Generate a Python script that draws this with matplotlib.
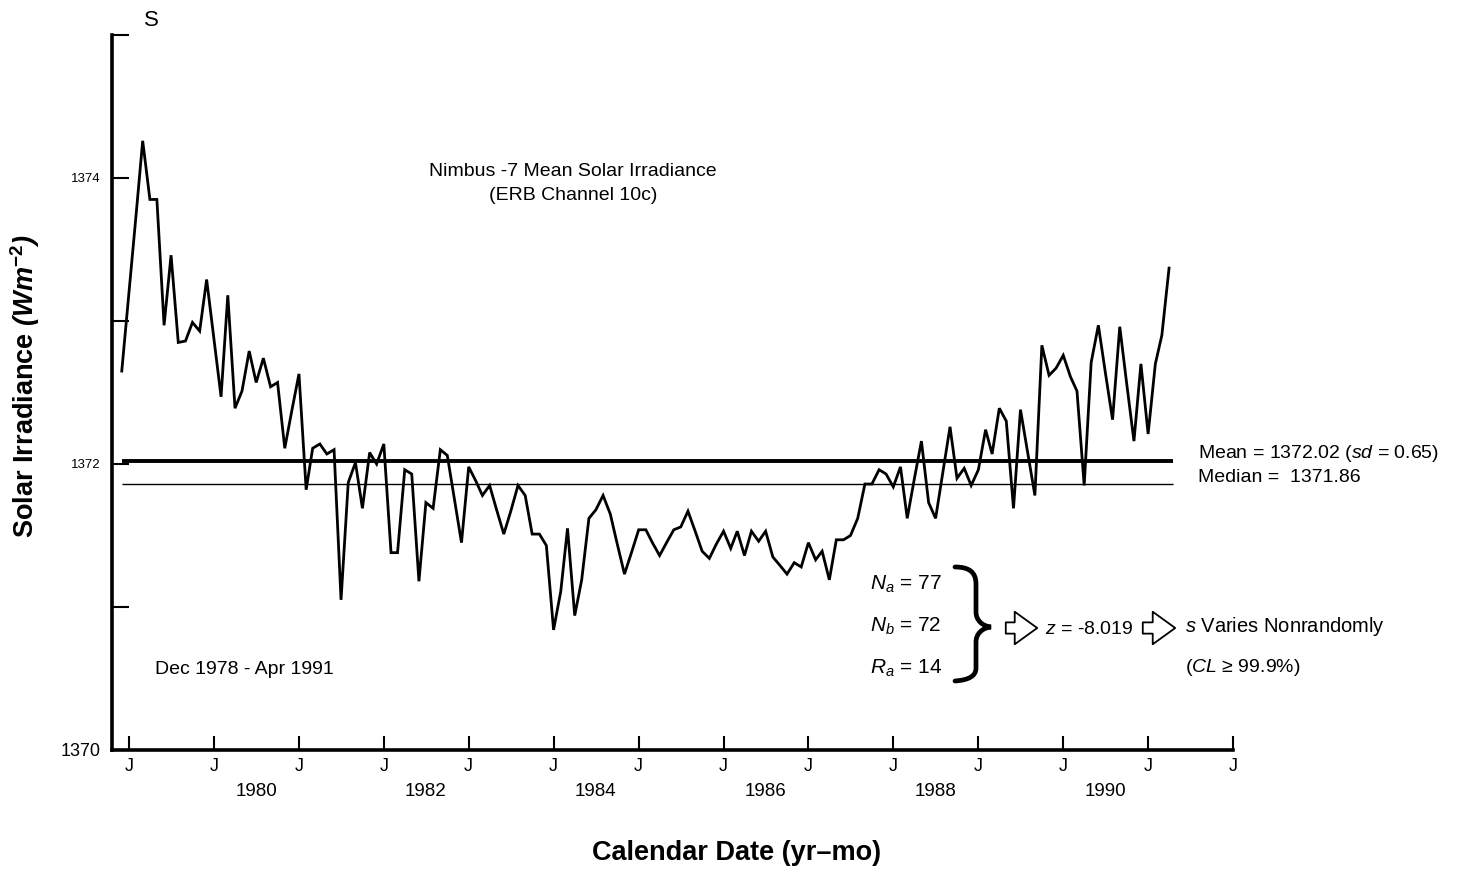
import numpy as np
import pandas as pd
import matplotlib
matplotlib.use("Agg")
import matplotlib.pyplot as plt
from matplotlib.path import Path
from matplotlib.patches import PathPatch, FancyArrowPatch

plt.rcParams["font.family"] = ["Liberation Sans", "DejaVu Sans"]
plt.rcParams["mathtext.fontset"] = "custom"
plt.rcParams["mathtext.rm"] = "Liberation Sans"
plt.rcParams["mathtext.it"] = "Liberation Sans:italic"
plt.rcParams["mathtext.bf"] = "Liberation Sans:bold"
plt.rcParams["mathtext.bfit"] = "Liberation Sans:bold:italic"

# monthly Nimbus-7 ERB channel 10c means, Dec 1978 - Apr 1991
start_month = "1978-12-01"
irradiance = [
    1372.65, 1373.20, 1373.75, 1374.26, 1373.85, 1373.85, 1372.97, 1373.46, 1372.85, 1372.86,
    1372.99, 1372.93, 1373.29, 1372.88, 1372.47, 1373.18, 1372.39, 1372.51, 1372.79, 1372.57,
    1372.74, 1372.54, 1372.57, 1372.11, 1372.37, 1372.63, 1371.82, 1372.11, 1372.14, 1372.07,
    1372.10, 1371.05, 1371.87, 1372.01, 1371.69, 1372.08, 1372.00, 1372.14, 1371.38, 1371.38,
    1371.96, 1371.93, 1371.18, 1371.73, 1371.69, 1372.10, 1372.06, 1371.75, 1371.45, 1371.98,
    1371.88, 1371.78, 1371.85, 1371.68, 1371.51, 1371.67, 1371.85, 1371.78, 1371.51, 1371.51,
    1371.43, 1370.84, 1371.11, 1371.55, 1370.94, 1371.19, 1371.62, 1371.68, 1371.78, 1371.65,
    1371.44, 1371.23, 1371.38, 1371.54, 1371.54, 1371.45, 1371.36, 1371.45, 1371.54, 1371.56,
    1371.67, 1371.53, 1371.39, 1371.34, 1371.44, 1371.53, 1371.41, 1371.53, 1371.36, 1371.53,
    1371.46, 1371.53, 1371.35, 1371.29, 1371.23, 1371.31, 1371.28, 1371.45, 1371.33, 1371.39,
    1371.19, 1371.47, 1371.47, 1371.50, 1371.62, 1371.86, 1371.86, 1371.96, 1371.93, 1371.84,
    1371.98, 1371.62, 1371.90, 1372.16, 1371.73, 1371.62, 1371.94, 1372.26, 1371.90, 1371.97,
    1371.85, 1371.96, 1372.24, 1372.07, 1372.39, 1372.30, 1371.69, 1372.38, 1372.08, 1371.78,
    1372.83, 1372.62, 1372.67, 1372.76, 1372.61, 1372.51, 1371.85, 1372.71, 1372.97, 1372.64,
    1372.31, 1372.96, 1372.56, 1372.16, 1372.70, 1372.21, 1372.70, 1372.90, 1373.37,
]

mean_val = 1372.02
sd_val = 0.65
median_val = 1371.86
n_a, n_b, r_a = 77, 72, 14
z_val = -8.019

year_ticks = list(range(1979, 1993))
year_labels = [1980, 1982, 1984, 1986, 1988, 1990]
y_ticks = [1370, 1371, 1372, 1373, 1374, 1375]
y_labels = ["1370", "", "1372", "", "1374", ""]

W, H = 1459, 890
FS = 14


def fx(x):
    return x / W


def fy(y):
    return 1 - y / H


dates = pd.date_range(start_month, periods=len(irradiance), freq="MS")

fig = plt.figure(figsize=(W / 100, H / 100), dpi=100)
ax = fig.add_axes([fx(112), fy(750), fx(1233) - fx(112), fy(35) - fy(750)])

ax.plot(dates, irradiance, color="black", lw=2.0, solid_joinstyle="miter")
line_end = dates[-1] + pd.DateOffset(days=15)
ax.hlines(mean_val, dates[0], line_end, color="black", lw=2.8)
ax.hlines(median_val, dates[0], line_end, color="black", lw=1.0)

ax.set_xlim(pd.Timestamp("1978-10-20"), pd.Timestamp("1992-01-01"))
ax.set_ylim(1370, 1375)

ax.set_xticks([pd.Timestamp(f"{y}-01-01") for y in year_ticks])
ax.set_xticklabels(["J"] * len(year_ticks))
ax.set_xticks([pd.Timestamp(f"{y}-07-01") for y in year_labels], minor=True)
ax.set_xticklabels([str(y) for y in year_labels], minor=True)
ax.tick_params(axis="x", which="major", direction="in", length=10, width=1.5,
               pad=6, labelsize=13)
ax.tick_params(axis="x", which="minor", length=0, pad=24, labelsize=13.5)

ax.set_yticks(y_ticks)
ax.set_yticklabels(y_labels)
ax.tick_params(axis="y", direction="in", length=12, width=1.5, pad=8, labelsize=13)
# the upper value labels are set in a smaller type than the baseline one
for lab in ax.get_yticklabels()[1:]:
    lab.set_fontsize(9.5)

for side in ["top", "right"]:
    ax.spines[side].set_visible(False)
for side in ["left", "bottom"]:
    ax.spines[side].set_linewidth(2.6)

# axis titles
fig.text(fx(25), fy(386), r"Solar Irradiance $\mathbfit{(Wm}^{\mathbf{-2}}\mathbfit{)}$",
         rotation=90, fontsize=19.5, fontweight="bold", ha="center", va="center")
fig.text(fx(737), fy(853), "Calendar Date (yr\u2013mo)", fontsize=19.5,
         fontweight="bold", ha="center", va="center")
fig.text(fx(151), fy(21), "S", fontsize=16, ha="center", va="center")

# in-plot labels
fig.text(fx(573), fy(172), "Nimbus -7 Mean Solar Irradiance", fontsize=FS,
         ha="center", va="center")
fig.text(fx(573), fy(195), "(ERB Channel 10c)", fontsize=FS, ha="center", va="center")
fig.text(fx(155), fy(670), "Dec 1978 - Apr 1991", fontsize=FS, ha="left", va="center")

fig.text(fx(1198), fy(453), rf"Mean = {mean_val:.2f} ($sd$ = {sd_val:.2f})",
         fontsize=FS, ha="left", va="center")
fig.text(fx(1198), fy(478), f"Median =  {median_val:.2f}", fontsize=FS,
         ha="left", va="center")

fig.text(fx(870), fy(584), rf"$N_a$ = {n_a}", fontsize=FS + 1, ha="left", va="center")
fig.text(fx(870), fy(626), rf"$N_b$ = {n_b}", fontsize=FS + 1, ha="left", va="center")
fig.text(fx(870), fy(668), rf"$R_a$ = {r_a}", fontsize=FS + 1, ha="left", va="center")
fig.text(fx(1045), fy(629), rf"$z$ = {z_val}", fontsize=FS, ha="left", va="center")
fig.text(fx(1185), fy(626), r"$s$ Varies Nonrandomly", fontsize=FS + 0.5, ha="left",
         va="center")
fig.text(fx(1185), fy(668), "($CL$ \u2265 99.9%)", fontsize=FS, ha="left",
         va="center")

# curly brace grouping the run counts
brace_px = [(955, 567), (969, 567), (976, 572), (976, 584),
            (976, 612),
            (976, 620), (982, 626), (991, 627),
            (982, 628), (976, 634), (976, 642),
            (976, 668),
            (976, 676), (969, 680), (955, 681)]
codes = [Path.MOVETO, Path.CURVE4, Path.CURVE4, Path.CURVE4,
         Path.LINETO,
         Path.CURVE4, Path.CURVE4, Path.CURVE4,
         Path.CURVE4, Path.CURVE4, Path.CURVE4,
         Path.LINETO,
         Path.CURVE4, Path.CURVE4, Path.CURVE4]
brace = Path([(fx(x), fy(y)) for x, y in brace_px], codes)
fig.patches.append(PathPatch(brace, transform=fig.transFigure, fill=False,
                             lw=3.4, ec="black", capstyle="round"))

# hollow arrows
for x0, x1 in [(1003, 1040), (1140, 1178)]:
    fig.patches.append(FancyArrowPatch(
        (fx(x0), fy(628)), (fx(x1), fy(628)), transform=fig.transFigure,
        arrowstyle="simple,head_length=0.9,head_width=1.3,tail_width=0.45",
        mutation_scale=18, fc="white", ec="black", lw=1.3))

fig.savefig("out.png", dpi=100)
